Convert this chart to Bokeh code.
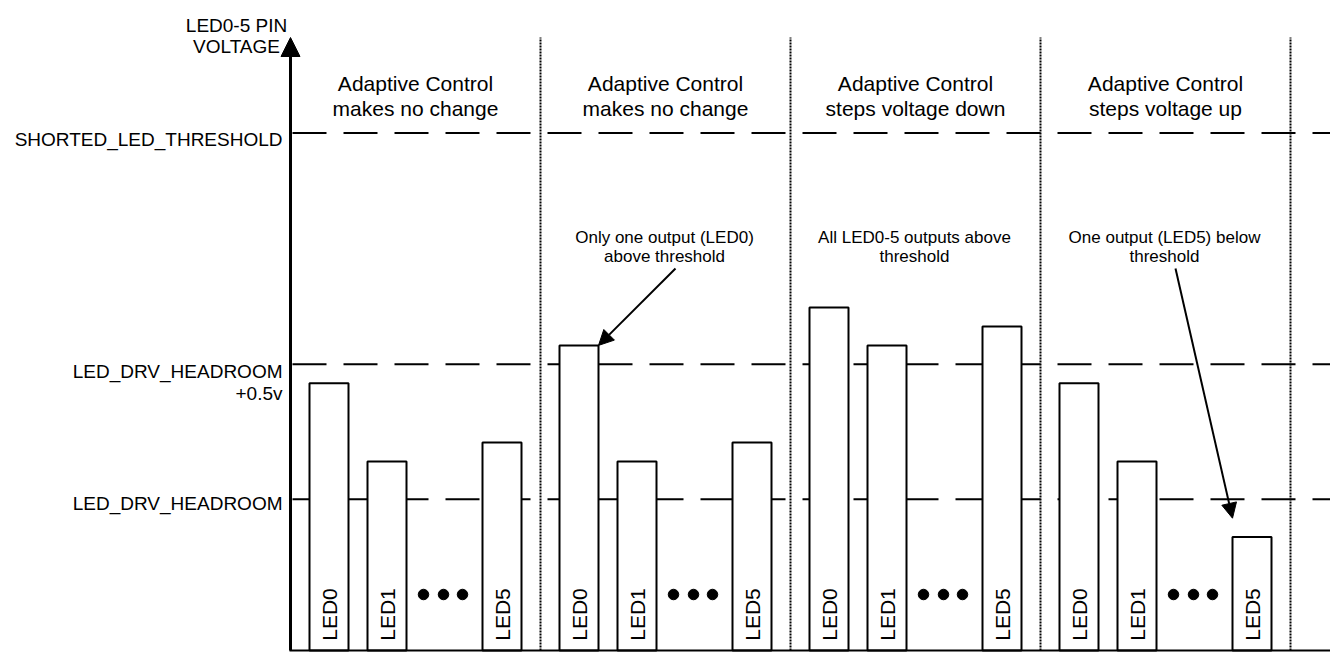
import numpy as np
from bokeh.plotting import figure
from bokeh.models import Range1d, ColumnDataSource, Arrow, NormalHead
from bokeh.core.properties import value
from bokeh.embed import file_html
from bokeh.resources import INLINE

# ---------------- data ----------------
group_title_line1 = ["Adaptive Control", "Adaptive Control", "Adaptive Control", "Adaptive Control"]
group_title_line2 = ["makes no change", "makes no change", "steps voltage down", "steps voltage up"]
bar_labels = ["LED0", "LED1", "LED5"]
# pin voltages (V above axis origin) for LED0, LED1, LED5 in each group
group1_volts = [0.99, 0.70, 0.77]
group2_volts = [1.13, 0.70, 0.77]
group3_volts = [1.27, 1.13, 1.20]
group4_volts = [0.99, 0.70, 0.42]
level_volts = [0.56, 1.06, 1.917]
level_label_line1 = ["LED_DRV_HEADROOM", "LED_DRV_HEADROOM", "SHORTED_LED_THRESHOLD"]
level_label_line2 = ["", "+0.5v", ""]
axis_label_lines = ["LED0-5 PIN", "VOLTAGE"]
note_line1 = ["Only one output (LED0)", "All LED0-5 outputs above", "One output (LED5) below"]
note_line2 = ["above threshold", "threshold", "threshold"]
note_groups = [1, 2, 3]
arrow_tip_volts = [1.13, 0.49]

# ---------------- layout (pixels) ----------------
W, H = 1330, 653
PX_PER_V = 270.0
BASE_PX = 650.0
def to_v(ref_y):
    return (BASE_PX - ref_y) / PX_PER_V

FONT = value("Liberation Sans")
AXIS_X = 290
RIGHT_X = W
GROUP_X0 = [309, 559, 809, 1059]
BAR_OFFSETS = [0, 58, 173]
BAR_W = 39
DOT_OFFSETS = [114, 134, 153]
DIVIDER_X = [g + 231 for g in GROUP_X0]
GROUP_CX = [g + 106 for g in GROUP_X0]

all_volts = [group1_volts, group2_volts, group3_volts, group4_volts]

ymax = to_v(0)
ymin = to_v(H)
p = figure(width=W, height=H, x_range=Range1d(0, W), y_range=Range1d(ymin, ymax),
           output_backend="svg", toolbar_location=None, min_border=0)
p.axis.visible = False
p.grid.visible = False
p.outline_line_color = None
p.background_fill_color = "white"
p.border_fill_color = "white"

# dashed threshold lines
p.segment(x0=[AXIS_X + 2] * 3, y0=level_volts, x1=[RIGHT_X] * 3, y1=level_volts,
          line_color="black", line_width=2, line_dash="34 17")

# dotted dividers
p.segment(x0=DIVIDER_X, y0=[0] * 4, x1=DIVIDER_X, y1=[to_v(37)] * 4,
          line_color="black", line_width=2, line_dash="2 1")

# bars
lefts, rights, tops, cx, labs = [], [], [], [], []
for g, vols in enumerate(all_volts):
    for k, v in enumerate(vols):
        l = GROUP_X0[g] + BAR_OFFSETS[k]
        lefts.append(l)
        rights.append(l + BAR_W)
        tops.append(v)
        cx.append(l + BAR_W / 2)
        labs.append(bar_labels[k])
bars = ColumnDataSource(dict(left=lefts, right=rights, top=tops, bottom=[0] * len(tops), cx=cx, lab=labs))
p.quad(left="left", right="right", top="top", bottom="bottom", source=bars,
       fill_color="white", line_color="black", line_width=2)
p.text(x="cx", y=to_v(614), text="lab", source=bars, angle=np.pi / 2,
       text_align="center", text_baseline="middle", text_font=FONT,
       text_font_size="21px", text_color="black")

# ellipsis dots
dx = [g + d for g in GROUP_X0 for d in DOT_OFFSETS]
p.scatter(x=dx, y=[to_v(594)] * len(dx), marker="circle", size=10.5,
          fill_color="black", line_color="black")

# axes
p.segment(x0=[AXIS_X - 1], y0=[0], x1=[RIGHT_X], y1=[0], line_color="black", line_width=2)
p.add_layout(Arrow(end=NormalHead(size=19, fill_color="black", line_color="black", line_width=1),
                   x_start=AXIS_X, y_start=0, x_end=AXIS_X, y_end=to_v(37),
                   line_color="black", line_width=3))

# axis label
p.text(x=[236, 236], y=[to_v(24.5), to_v(46)], text=axis_label_lines,
       text_align="center", text_baseline="alphabetic", text_font=FONT,
       text_font_size="19px", text_color="black")

# level labels
l1_base = [503, 371, 138.5]
p.text(x=[282] * 3, y=[to_v(b) for b in l1_base], text=level_label_line1,
       text_align="right", text_baseline="alphabetic", text_font=FONT,
       text_font_size="19px", text_color="black")
p.text(x=[282] * 3, y=[to_v(b + 22) for b in l1_base], text=level_label_line2,
       text_align="right", text_baseline="alphabetic", text_font=FONT,
       text_font_size="19px", text_color="black")

# group titles
p.text(x=GROUP_CX, y=[to_v(83.3)] * 4, text=group_title_line1,
       text_align="center", text_baseline="alphabetic", text_font=FONT,
       text_font_size="21px", text_color="black")
p.text(x=GROUP_CX, y=[to_v(108.3)] * 4, text=group_title_line2,
       text_align="center", text_baseline="alphabetic", text_font=FONT,
       text_font_size="21px", text_color="black")

# notes
nx = [GROUP_CX[g] - 1 for g in note_groups]
p.text(x=nx, y=[to_v(236.5)] * 3, text=note_line1,
       text_align="center", text_baseline="alphabetic", text_font=FONT,
       text_font_size="17px", text_color="black")
p.text(x=nx, y=[to_v(255.5)] * 3, text=note_line2,
       text_align="center", text_baseline="alphabetic", text_font=FONT,
       text_font_size="17px", text_color="black")

# note arrows
ax_start = [675, 1175]
ax_end = [GROUP_X0[1] + BAR_OFFSETS[0] + BAR_W, GROUP_X0[3] + BAR_OFFSETS[2]]
arr = ColumnDataSource(dict(xs=ax_start, ys=[to_v(268)] * 2, xe=ax_end, ye=arrow_tip_volts))
p.add_layout(Arrow(end=NormalHead(size=15, fill_color="black", line_color="black", line_width=1),
                   x_start="xs", y_start="ys", x_end="xe", y_end="ye", source=arr,
                   line_color="black", line_width=2))

open("out.html", "w").write(file_html(p, INLINE))
